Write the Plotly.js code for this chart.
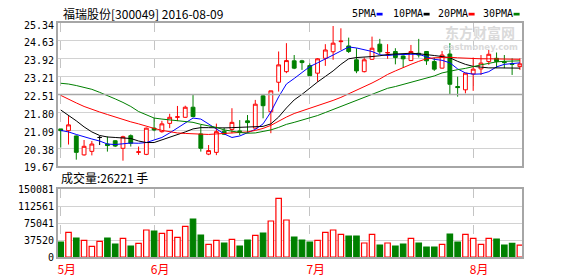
<!DOCTYPE html>
<html><head><meta charset="utf-8">
<script src="https://cdn.plot.ly/plotly-3.0.1.min.js"></script>
<style>html,body{margin:0;padding:0;background:#fff;}</style>
</head><body><div id="chart" style="width:578px;height:276px;"></div>
<script>
const dates = [
'2016-05-16','2016-05-17','2016-05-18','2016-05-19','2016-05-20','2016-05-23','2016-05-24','2016-05-25','2016-05-26','2016-05-27','2016-05-30','2016-05-31',
'2016-06-01','2016-06-02','2016-06-03','2016-06-06','2016-06-07','2016-06-08','2016-06-13','2016-06-14','2016-06-15','2016-06-16','2016-06-17','2016-06-20','2016-06-21','2016-06-22','2016-06-23','2016-06-24','2016-06-27','2016-06-28','2016-06-29','2016-06-30',
'2016-07-01','2016-07-04','2016-07-05','2016-07-06','2016-07-07','2016-07-08','2016-07-11','2016-07-12','2016-07-13','2016-07-14','2016-07-15','2016-07-18','2016-07-19','2016-07-20','2016-07-21','2016-07-22','2016-07-25','2016-07-26','2016-07-27','2016-07-28','2016-07-29',
'2016-08-01','2016-08-02','2016-08-03','2016-08-04','2016-08-05','2016-08-08','2016-08-09'];
const openP = [21.14,21.07,20.86,20.11,20.25,20.80,20.54,20.67,20.37,20.87,
20.21,20.13,21.17,21.03,21.36,21.60,21.60,22.00,20.94,20.14,
20.21,21.05,21.12,21.06,21.46,21.17,22.45,21.82,22.99,23.41,
23.84,23.84,23.65,23.35,23.94,24.20,24.60,24.43,23.88,23.41,
23.90,24.50,24.15,24.21,24.03,23.85,24.14,24.21,23.81,23.55,
24.11,22.82,22.69,23.32,23.52,23.81,23.94,23.80,23.72,23.61];
const highP = [21.14,21.65,20.88,20.70,20.66,20.86,20.84,20.69,20.87,20.92,
20.44,21.19,21.57,21.46,21.74,22.05,22.06,22.49,21.30,20.50,
21.35,21.19,21.96,21.49,21.69,22.29,22.51,22.65,24.21,24.54,
24.07,23.88,23.74,23.95,24.50,25.22,25.13,24.76,24.34,23.97,
24.80,24.71,24.50,24.34,24.05,24.47,24.71,24.23,23.97,24.23,
24.54,23.21,23.35,23.97,24.07,24.27,24.17,24.07,23.94,23.94];
const lowP = [20.40,20.52,19.92,20.08,20.09,20.50,20.24,20.42,19.88,20.44,
20.11,20.10,21.05,20.99,21.17,21.45,21.58,21.60,20.24,20.10,
20.10,20.90,20.97,20.89,20.97,21.16,21.56,20.97,22.62,23.35,
23.51,23.48,23.25,23.01,23.64,23.88,24.27,24.15,23.35,23.38,
23.88,24.10,23.92,23.70,23.57,23.83,23.97,23.68,23.44,23.53,
22.49,22.42,22.55,22.65,23.28,23.68,23.55,23.55,23.28,23.48];
const closeP = [21.07,21.30,20.21,20.45,20.54,20.80,20.48,20.46,20.83,20.57,
20.23,21.17,21.10,21.34,21.60,21.62,22.00,21.63,20.37,20.28,
21.03,20.93,21.40,21.03,21.39,22.12,22.06,22.65,23.68,23.85,
23.55,23.77,23.25,23.92,24.27,24.54,24.62,24.21,23.44,23.88,
24.34,24.20,24.17,23.97,23.92,24.21,24.07,23.84,23.51,24.07,
22.91,22.78,23.35,23.51,23.75,24.10,23.81,23.77,23.70,23.72];
const volume = [33300,54700,42100,37000,23600,34700,42100,28800,41400,24400,
30300,59900,57600,52500,59100,43600,68000,84200,48800,28100,
37000,31000,39200,24400,37700,48000,53200,79800,130000,82000,
44300,37700,33300,37000,54700,59900,50300,46600,46600,31000,
50300,26600,31000,24400,28800,41400,31000,22200,22200,28100,
51000,33300,50300,41400,28100,41400,39900,26600,30300,26221];
const ma5 = [21.08,21.02,20.92,20.82,20.74,20.66,20.54,20.52,20.56,20.58,
20.57,20.60,20.70,20.80,20.98,21.18,21.40,21.57,21.53,21.32,
21.14,20.94,20.80,20.86,20.98,21.12,21.34,21.81,22.41,22.92,
23.14,23.36,23.61,23.76,23.90,24.07,24.23,24.39,24.35,24.29,
24.21,24.08,24.05,24.08,24.10,24.10,24.10,24.01,23.90,23.86,
23.76,23.52,23.36,23.31,23.32,23.41,23.60,23.70,23.74,23.76];
const ma10 = [21.89,21.69,21.46,21.22,21.02,20.88,20.82,20.80,20.78,20.76,
20.66,20.60,20.60,20.70,20.82,20.92,21.02,21.14,21.19,21.19,
21.17,21.18,21.19,21.20,21.21,21.22,21.24,21.34,21.61,21.97,
22.29,22.51,22.77,23.00,23.22,23.44,23.70,23.92,23.97,23.98,
24.01,24.04,24.09,24.11,24.13,24.14,24.12,24.10,24.05,24.01,
23.96,23.82,23.70,23.62,23.58,23.56,23.56,23.56,23.55,23.55];
const ma20 = [22.47,22.31,22.17,22.03,21.91,21.81,21.71,21.61,21.52,21.42,
21.34,21.24,21.16,21.08,21.02,20.98,20.96,20.94,20.92,20.92,
20.94,20.96,20.98,21.00,21.02,21.08,21.16,21.28,21.46,21.61,
21.75,21.85,21.95,22.05,22.15,22.27,22.39,22.53,22.65,22.80,
22.96,23.12,23.30,23.44,23.58,23.70,23.82,23.92,23.96,23.98,
23.98,23.96,23.94,23.92,23.92,23.92,23.92,23.92,23.90,23.90];
const ma30 = [22.95,22.92,22.86,22.80,22.71,22.59,22.47,22.33,22.19,22.03,
21.83,21.69,21.57,21.53,21.50,21.48,21.46,21.40,21.32,21.27,
21.20,21.10,21.04,21.00,20.97,20.98,21.04,21.10,21.20,21.32,
21.40,21.48,21.56,21.67,21.79,21.91,22.03,22.14,22.27,22.39,
22.53,22.65,22.75,22.82,22.90,22.98,23.06,23.14,23.24,23.36,
23.44,23.49,23.54,23.62,23.68,23.74,23.80,23.82,23.83,23.84];
const priceTickLabels = ['25.34','24.63','23.92','23.21','22.51','21.80','21.09','20.38','19.67'];
const volTickLabels = ['150081','112561','75041','37520','0'];
const monthTicks = ['2016-05-16','2016-06-01','2016-07-01','2016-08-01'];
const monthLabels = ['5月','6月','7月','8月'];
const maNames = ['5PMA','10PMA','20PMA','30PMA'];
const maColors = ['#0000ff','#000000','#ff0000','#008000'];
const titleText = '福瑞股份[300049] 2016-08-09';
const volText = '成交量:26221 手';

const RED = '#ff0000', GREEN = '#008000';
const idx = dates.map((d,i)=>i);
const upIdx = idx.filter(i=>closeP[i]>openP[i]);
const dnIdx = idx.filter(i=>closeP[i]<openP[i]);
const flIdx = idx.filter(i=>closeP[i]===openP[i]);
const pick = (a,ids)=>ids.map(i=>a[i]);
function candle(ids, lineColor, fill){
  return {type:'candlestick', x:pick(dates,ids), open:pick(openP,ids), high:pick(highP,ids),
    low:pick(lowP,ids), close:pick(closeP,ids), xaxis:'x', yaxis:'y', whiskerwidth:0,
    increasing:{line:{color:lineColor,width:1}, fillcolor:fill},
    decreasing:{line:{color:lineColor,width:1}, fillcolor:fill}, hoverinfo:'skip'};
}
const traces = [
  candle(upIdx, RED, '#ffffff'),
  candle(dnIdx, GREEN, GREEN),
  candle(flIdx, '#000000', '#000000')
];
[ma5,ma10,ma20,ma30].forEach((m,k)=>{
  traces.push({type:'scatter', mode:'lines', x:dates, y:m, xaxis:'x', yaxis:'y',
    line:{color:maColors[k], width:1}, hoverinfo:'skip'});
});
traces.push({type:'bar', x:dates, y:volume, xaxis:'x2', yaxis:'y2', width:0.7,
  marker:{color:idx.map(i=>closeP[i]>=openP[i]?'#ffffff':GREEN),
          line:{color:idx.map(i=>closeP[i]>=openP[i]?RED:GREEN), width:1.2}},
  hoverinfo:'skip'});

const L=58, R=522, T=23, B=257;
const px = v => (v-L)/(R-L);
const py = v => (B-v)/(B-T);
const monoFont = {family:'DejaVu Sans Mono, monospace', size:10, color:'#000'};
const cjkFont = {family:'Noto Sans CJK SC, sans-serif', size:12, color:'#000'};
const annotations = [
  {xref:'paper', yref:'paper', x:px(61), y:py(13.5), xanchor:'left', yanchor:'middle', text:titleText, showarrow:false, font:cjkFont},
  {xref:'paper', yref:'paper', x:px(59), y:py(177.5), xanchor:'left', yanchor:'middle', text:volText, showarrow:false, font:cjkFont},
  {xref:'paper', yref:'paper', x:px(480), y:py(32), xanchor:'center', yanchor:'middle', text:'<b>东方财富网</b>', showarrow:false, borderpad:0, font:{family:'Noto Sans CJK SC, sans-serif', size:14, color:'#dadada'}},
  {xref:'paper', yref:'paper', x:px(480), y:py(47), xanchor:'center', yanchor:'middle', text:'<b>eastmoney.com</b>', showarrow:false, borderpad:0, font:{family:'DejaVu Sans, sans-serif', size:8.5, color:'#dadada'}}
];
const legendX = [351, 392, 437, 482];
const shapes = [
  {type:'line', xref:'paper', yref:'y', x0:0, x1:1, y0:22.505, y1:22.505, line:{color:'#a8a8a8', width:1.5}}
];
maNames.forEach((n,k)=>{
  annotations.push({xref:'paper', yref:'paper', x:px(legendX[k]-1), y:py(14), xanchor:'left', yanchor:'middle', text:n, showarrow:false, font:monoFont});
  const x0 = legendX[k] + n.length*6.02 + 1.5;
  shapes.push({type:'rect', xref:'paper', yref:'paper', x0:px(x0), x1:px(x0+6), y0:py(15.5), y1:py(12.8), line:{width:0}, fillcolor:maColors[k]});
});

const axisLine = {showline:true, mirror:true, linecolor:'#a6a6a6', linewidth:2};
const layout = {
  width:578, height:276, margin:{l:L, r:578-R, t:T, b:276-B, pad:0},
  paper_bgcolor:'#ffffff', plot_bgcolor:'#ffffff', showlegend:false, hovermode:false,
  xaxis:Object.assign({type:'category', categoryorder:'array', categoryarray:dates, range:[-0.35,59.27],
    tickvals:monthTicks, showticklabels:false, showgrid:true, gridcolor:'#c4c4c4', griddash:'dash', gridwidth:1,
    ticks:'', rangeslider:{visible:false}, anchor:'y', fixedrange:true, zeroline:false}, axisLine),
  yaxis:Object.assign({domain:[0.389,1], range:[19.67,25.34], tickvals:priceTickLabels.map(Number), ticktext:priceTickLabels,
    showgrid:true, gridcolor:'#d2d2d2', gridwidth:1, ticks:'', tickfont:monoFont, ticklabelshift:2, zeroline:false, fixedrange:true}, axisLine),
  xaxis2:Object.assign({type:'category', categoryorder:'array', categoryarray:dates, matches:'x', anchor:'y2',
    tickvals:monthTicks, ticktext:monthLabels, showgrid:true, gridcolor:'#c4c4c4', griddash:'dash', gridwidth:1,
    ticks:'', tickfont:{family:'Noto Sans CJK SC, sans-serif', size:12, color:RED}, ticklabelshift:6, ticklabelstandoff:1,
    zeroline:false, fixedrange:true}, axisLine),
  yaxis2:Object.assign({domain:[0,0.2893], range:[0,150081], tickvals:volTickLabels.map(Number), ticktext:volTickLabels,
    showgrid:true, gridcolor:'#d2d2d2', gridwidth:1, ticks:'', tickfont:monoFont, zeroline:false, fixedrange:true}, axisLine),
  annotations:annotations, shapes:shapes
};
Plotly.newPlot('chart', traces, layout, {staticPlot:true, displayModeBar:false});
</script></body></html>
